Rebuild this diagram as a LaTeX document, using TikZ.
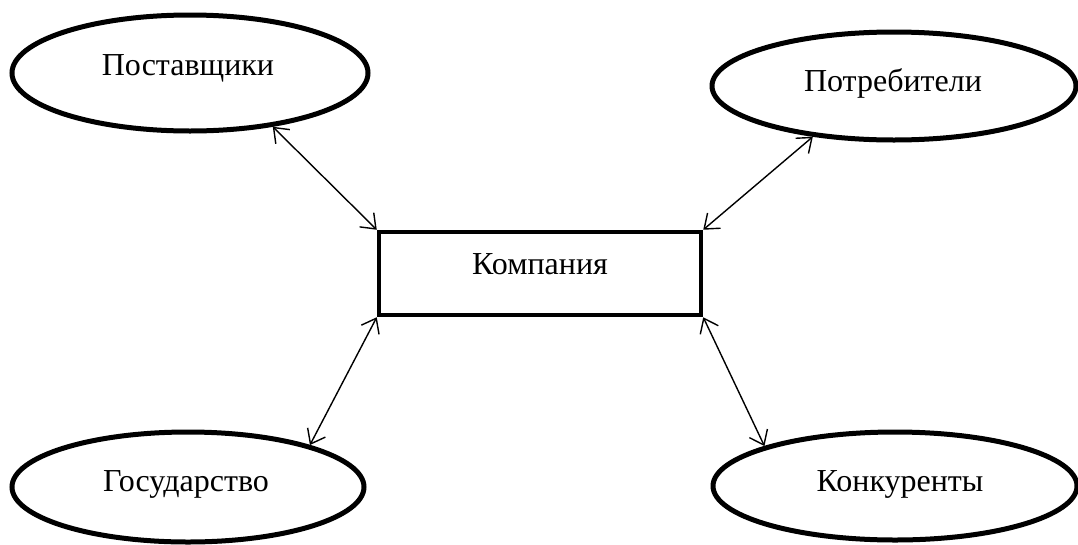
\documentclass[tikz,border=0pt]{standalone}
\usepackage{fontspec}
\setmainfont{Liberation Serif}
\usetikzlibrary{shapes.geometric,arrows.meta}
\begin{document}
\begin{tikzpicture}[x=1pt,y=-1pt,
  party/.style={draw,ellipse,line width=5pt,minimum width=#1,inner sep=0pt},
  party/.default={356pt},
  firm/.style={draw,rectangle,line width=4.5pt,minimum width=322pt,minimum height=83pt,inner sep=0pt},
  lbl/.style={font=\fontsize{32}{38}\selectfont,inner sep=0pt,anchor=base},
  link/.style={line width=1.4pt,{Straight Barb[length=13pt,width=20pt,line width=1.4pt]}-{Straight Barb[length=13pt,width=20pt,line width=1.4pt]}}]
\useasboundingbox (0,0) rectangle (1078,544);
\node[party, minimum height=116pt] (sup) at (190,73) {};
\node[party=364pt, minimum height=108pt] (cons) at (894,86) {};
\node[party=352pt, minimum height=110pt] (gov) at (188,487) {};
\node[party=364pt, minimum height=108pt] (comp) at (895,486) {};
\node[firm] (firm) at (540,273.5) {};
\node[lbl] (tsup) at (188,75) {Поставщики};
\node[lbl] (tcons) at (893,91) {Потребители};
\node[lbl] (tgov) at (186,491) {Государство};
\node[lbl] (tcomp) at (900,491) {Конкуренты};
\node[lbl] (tfirm) at (540,274) {Компания};
\draw[link] (sup.-33) -- (firm.north west);
\draw[link] (cons.-148) -- (firm.north east);
\draw[link] (firm.south west) -- (gov.19);
\draw[link] (firm.south east) -- (comp.163);
\end{tikzpicture}
\end{document}
